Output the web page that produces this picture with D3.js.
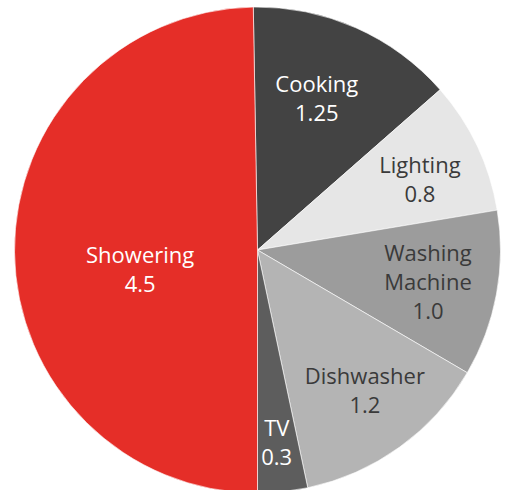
<!DOCTYPE html>
<html><head><meta charset="utf-8">
<script src="https://cdn.jsdelivr.net/npm/d3@7"></script>
<style>html,body{margin:0;padding:0;background:#fff;}</style>
</head><body>
<svg id="chart" width="509" height="490"></svg>
<script>
const categories = ["Cooking", "Lighting", "Washing Machine", "Dishwasher", "TV", "Showering"];
const values = [1.25, 0.8, 1.0, 1.2, 0.3, 4.5];
const valueLabels = ["1.25", "0.8", "1.0", "1.2", "0.3", "4.5"];

// styling
const colors = ["#434343", "#e6e6e6", "#9c9c9c", "#b4b4b4", "#5d5d5d", "#e52e28"];
const textColors = ["#ffffff", "#3a3a3a", "#3a3a3a", "#3a3a3a", "#ffffff", "#ffffff"];
const labelRadiusFrac = [0.664, 0.727, 0.715, 0.731, 0.802, 0.49];
const labelAngleShift = [-2.3, 2.2, 0.6, -1.4, 0.3, -9.2];
const nameLines = [["Cooking"], ["Lighting"], ["Washing", "Machine"], ["Dishwasher"], ["TV"], ["Showering"]];

const cx = 257.5, cy = 250, R = 243;
const svg = d3.select("#chart");
const g = svg.append("g").attr("transform", `translate(${cx},${cy})`);

const total = d3.sum(values);
const startOffset = (1 - 2 * d3.sum(values.slice(0, 5)) / total) * Math.PI; // showering lower edge vertical
const pie = d3.pie().sort(null).value(d => d.v)
  .startAngle(startOffset).endAngle(startOffset + 2 * Math.PI);
const data = categories.map((c, i) => ({c, v: values[i], i}));
const arcs = pie(data);
const arc = d3.arc().innerRadius(0).outerRadius(R);

g.selectAll("path").data(arcs).join("path")
  .attr("d", arc)
  .attr("fill", d => colors[d.data.i])
  .attr("stroke", "#ffffff").attr("stroke-width", 0.6);

const lh = 29;
arcs.forEach(d => {
  const i = d.data.i;
  const a = (d.startAngle + d.endAngle) / 2 + labelAngleShift[i] * Math.PI / 180;
  const r = R * labelRadiusFrac[i];
  const x = r * Math.sin(a), y = -r * Math.cos(a);
  const lines = nameLines[i].concat([valueLabels[i]]);
  const t = g.append("text")
    .attr("text-anchor", "middle")
    .attr("font-family", "'Open Sans', sans-serif")
    .attr("font-size", 22)
    .attr("font-weight", 500)
    .attr("fill", textColors[i]);
  const n = lines.length;
  lines.forEach((L, k) => {
    t.append("tspan").attr("x", x)
      .attr("y", y + (k - (n - 1) / 2) * lh + 7)
      .text(L);
  });
});
</script>
</body></html>
